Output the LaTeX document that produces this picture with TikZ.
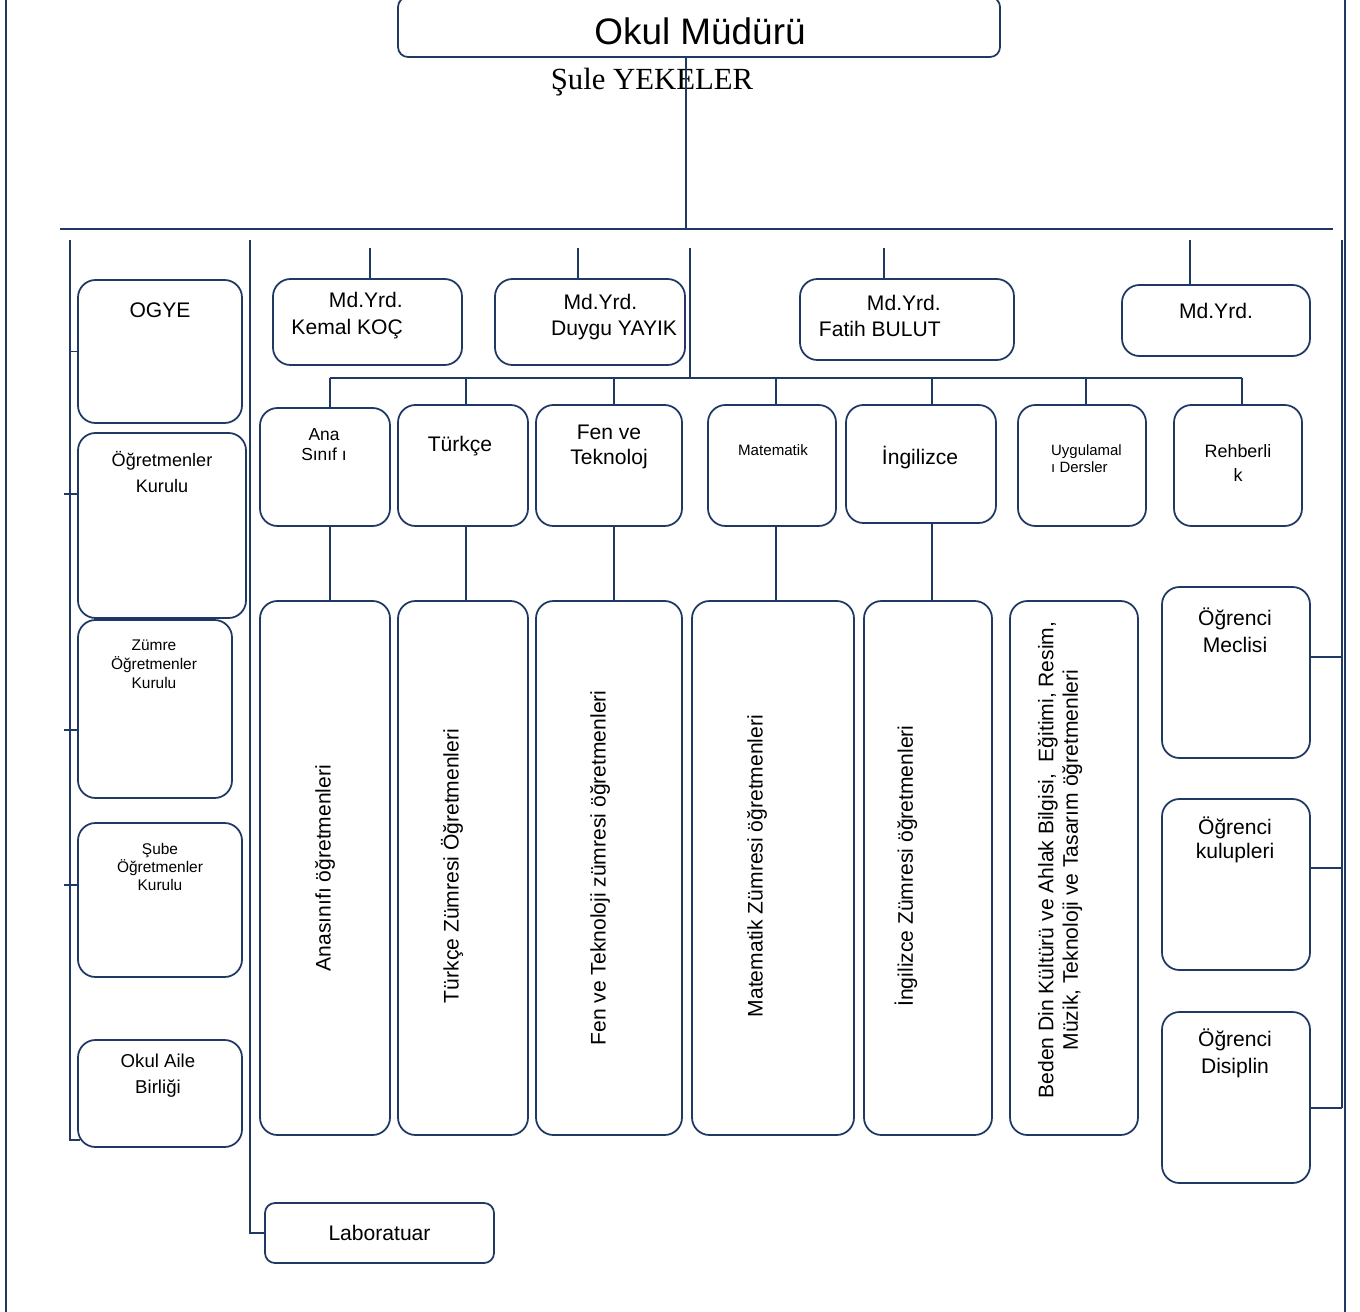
\documentclass[tikz,border=0pt]{standalone}
\usepackage{fontspec}
\setmainfont{Liberation Sans}
\newfontfamily\timesyazi{Liberation Serif}
\usetikzlibrary{fit}
\definecolor{lacivert}{RGB}{31,56,100}
\tikzset{kutu/.style={draw=lacivert, line width=1pt, rounded corners=0.35cm, inner sep=0pt},
  cizgi/.style={draw=lacivert, line width=1pt}}
\newcommand{\fs}[2]{\fontsize{#1}{#2}\selectfont}

\begin{document}
\begin{tikzpicture}[x=0.02cm, y=-0.02cm]
\useasboundingbox (0,0) rectangle (1360,1312);

% cerceve
\draw[cizgi] (6,0) -- (6,1312);
\draw[cizgi] (1345,0) -- (1345,1312);

% mudur
\node[kutu, rounded corners=0.2cm, fit={(398,-3) (1000,57)}] (mudur) {};
\node[font={\fs{21}{25}}] (mudur-t) at (700,31) {Okul Müdürü};
\node[font={\timesyazi\fs{17.5}{20}}] (sule) at (652,82) {Şule YEKELER};

\coordinate (mbas) at (686,229);
\coordinate (hsol) at (60,229);
\coordinate (hsag) at (1333,229);
\draw[cizgi] (mudur.south -| mbas) -- (mbas);
\draw[cizgi] (hsol) -- (hsag);

% sol kurullar
\node[kutu, fit={(78,280) (242,423)}] (ogye) {};
\node[font={\fs{12}{14}}] (ogye-t) at (160,310) {OGYE};
\node[kutu, fit={(78,433) (246,618)}] (ogk) {};
\node[font={\fs{10.3}{14.7}}, align=center] (ogk-t) at (162,472) {Öğretmenler\\Kurulu};
\node[kutu, fit={(78,620) (232,798)}] (zumre) {};
\node[font={\fs{8.8}{10.8}}, align=center] (zumre-t) at (154,664) {Zümre\\Öğretmenler\\Kurulu};
\node[kutu, fit={(78,823) (242,977)}] (sube) {};
\node[font={\fs{8.8}{10.3}}, align=center] (sube-t) at (160,867) {Şube\\Öğretmenler\\Kurulu};
\node[kutu, fit={(78,1040) (242,1147)}] (aile) {};
\node[font={\fs{10.6}{14.7}}, align=center] (aile-t) at (158,1076) {Okul Aile\\Birliği};

\coordinate (sol) at (70,240);
\coordinate (solalt) at (80,1140);
\coordinate (t1) at (64,494);
\coordinate (t2) at (64,730);
\coordinate (t3) at (64,885);
\draw[cizgi] (sol) |- (solalt);
\draw[cizgi] (ogye.west -| sol) -- (ogye.west);
\draw[cizgi] (t1) -- (t1 -| ogk.west);
\draw[cizgi] (t2) -- (t2 -| zumre.west);
\draw[cizgi] (t3) -- (t3 -| sube.west);

% laboratuar
\node[kutu, rounded corners=0.2cm, fit={(265,1203) (494,1263)}] (lab) {};
\node[font={\fs{12}{14}}] (lab-t) at (lab.center) {Laboratuar};
\coordinate (orta) at (250,240);
\draw[cizgi] (orta) |- (lab.west);

% mudur yardimcilari
\node[kutu, fit={(273,279) (462,365)}] (kemal) {};
\node[font={\fs{12}{15.3}}, align=right, anchor=east] (kemal-t) at (409,316) {Md.Yrd.\\Kemal KOÇ};
\node[kutu, fit={(495,279) (685,365)}] (duygu) {};
\node[font={\fs{12}{15.3}}, align=left, anchor=west] (duygu-t) at (545,317) {\hspace{7pt}Md.Yrd.\\Duygu YAYIK};
\node[kutu, fit={(800,279) (1014,360)}] (fatih) {};
\node[font={\fs{12}{15.3}}, align=right, anchor=east] (fatih-t) at (947,316) {Md.Yrd.\\Fatih BULUT};
\node[kutu, fit={(1122,285) (1310,356)}] (mdyrd) {};
\node[font={\fs{12}{14}}] (mdyrd-t) at (1216,311) {Md.Yrd.};

\coordinate (y1) at (370,248);
\coordinate (y2) at (578,248);
\coordinate (y3) at (884,248);
\coordinate (y4) at (1190,240);
\draw[cizgi] (y1) -- (y1 |- kemal.north);
\draw[cizgi] (y2) -- (y2 |- duygu.north);
\draw[cizgi] (y3) -- (y3 |- fatih.north);
\draw[cizgi] (y4) -- (y4 |- mdyrd.north);

% bolumler
\node[kutu, fit={(260,408) (390,526)}] (anasinif) {};
\node[font={\fs{9.9}{11.3}}, align=center] (anasinif-t) at (324,445) {Ana\\Sınıf ı};
\node[kutu, fit={(398,405) (528,526)}] (turkce) {};
\node[font={\fs{12}{14}}] (turkce-t) at (460,446) {Türkçe};
\node[kutu, fit={(536,405) (682,526)}] (fen) {};
\node[font={\fs{12}{14.7}}, align=center] (fen-t) at (609,447) {Fen ve\\Teknoloj};
\node[kutu, fit={(708,405) (836,526)}] (mat) {};
\node[font={\fs{8.6}{10}}] (mat-t) at (773,450) {Matematik};
\node[kutu, fit={(846,405) (996,523)}] (ing) {};
\node[font={\fs{12}{14}}] (ing-t) at (920,458) {İngilizce};
\node[kutu, fit={(1018,405) (1146,526)}] (uyg) {};
\node[font={\fs{8.5}{9.6}}, align=left, anchor=west] (uyg-t) at (1045,459) {Uygulamal\\ı Dersler};
\node[kutu, fit={(1174,405) (1302,526)}] (reh) {};
\node[font={\fs{10.2}{13.6}}, align=center] (reh-t) at (1238,463) {Rehberli\\k};

\coordinate (b0) at (690,248);
\coordinate (b1) at (690,378);
\coordinate (bsol) at (330,378);
\coordinate (bsag) at (1242,378);
\draw[cizgi] (b0) -- (b1);
\draw[cizgi] (bsol) -- (bsag);
\foreach \d/\x in {anasinif/330,turkce/466,fen/614,mat/776,ing/932,uyg/1086,reh/1242}
  \draw[cizgi] (\x,0 |- b1) -- (\x,0 |- \d.north);

% zumre ogretmenleri
\node[kutu, fit={(260,601) (390,1135)}] (anasinif-og) {};
\node[font={\fs{12}{14}}, rotate=90] (anasinif-ogt) at (325,868) {Anasınıfı öğretmenleri};
\node[kutu, fit={(398,601) (528,1135)}] (turkce-og) {};
\node[font={\fs{12}{14}}, rotate=90] (turkce-ogt) at (452,866) {Türkçe Zümresi Öğretmenleri};
\node[kutu, fit={(536,601) (682,1135)}] (fen-og) {};
\node[font={\fs{12}{14}}, rotate=90] (fen-ogt) at (600,868) {Fen ve Teknoloji zümresi öğretmenleri};
\node[kutu, fit={(692,601) (854,1135)}] (mat-og) {};
\node[font={\fs{12}{14}}, rotate=90] (mat-ogt) at (757,866) {Matematik Zümresi öğretmenleri};
\node[kutu, fit={(864,601) (992,1135)}] (ing-og) {};
\node[font={\fs{12}{14}}, rotate=90] (ing-ogt) at (906,866) {İngilizce Zümresi öğretmenleri};
\node[kutu, fit={(1010,601) (1138,1135)}] (beden-og) {};
\node[font={\fs{12}{14}}, rotate=90, align=center] (beden-ogt) at (1060,860)
  {Beden Din Kültürü ve Ahlak Bilgisi,\ \ Eğitimi, Resim,\\Müzik, Teknoloji ve Tasarım öğretmenleri};

\foreach \a/\x in {anasinif/330,turkce/466,fen/614,mat/776,ing/932}
  \draw[cizgi] (\x,0 |- \a.south) -- (\x,0 |- \a-og.north);

% ogrenci kurullari
\node[kutu, fit={(1162,587) (1310,758)}] (meclis) {};
\node[font={\fs{12}{15.3}}, align=center] (meclis-t) at (1235,630) {Öğrenci\\Meclisi};
\node[kutu, fit={(1162,799) (1310,970)}] (kulup) {};
\node[font={\fs{12}{14}}, align=center] (kulup-t) at (1235,840) {Öğrenci\\kulupleri};
\node[kutu, fit={(1162,1012) (1310,1183)}] (disiplin) {};
\node[font={\fs{12}{15.3}}, align=center] (disiplin-t) at (1235,1053) {Öğrenci\\Disiplin};

\coordinate (sag) at (1342,240);
\coordinate (s1) at (1342,657);
\coordinate (s2) at (1342,868);
\coordinate (s3) at (1342,1108);
\draw[cizgi] (sag) -- (s3);
\draw[cizgi] (s1 -| meclis.east) -- (s1);
\draw[cizgi] (s2 -| kulup.east) -- (s2);
\draw[cizgi] (s3 -| disiplin.east) -- (s3);
\end{tikzpicture}
\end{document}
